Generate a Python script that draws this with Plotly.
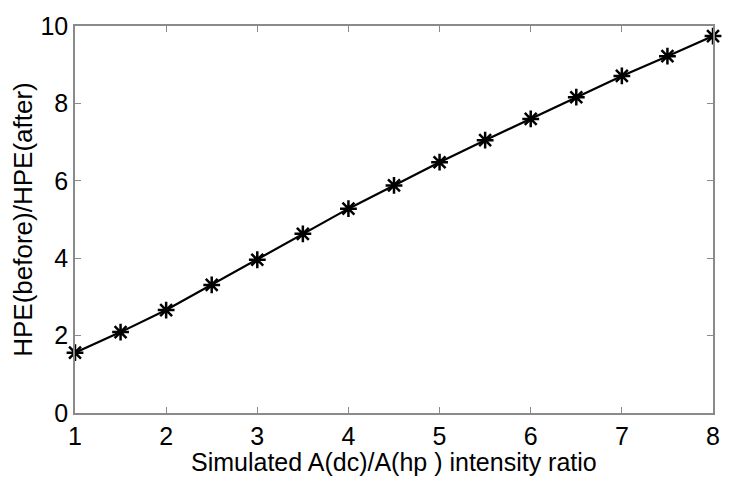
import plotly.graph_objects as go

# intensity ratio A(dc)/A(hp) and HPE improvement
ratio = [1, 1.5, 2, 2.5, 3, 3.5, 4, 4.5, 5, 5.5, 6, 6.5, 7, 7.5, 8]
hpe_ratio = [1.56, 2.09, 2.66, 3.31, 3.96, 4.63, 5.28, 5.88, 6.48,
             7.05, 7.60, 8.16, 8.71, 9.22, 9.74]

x_ticks = [1, 2, 3, 4, 5, 6, 7, 8]
y_ticks = [0, 2, 4, 6, 8, 10]
x_title = "Simulated A(dc)/A(hp ) intensity ratio"
y_title = "HPE(before)/HPE(after)"

fig = go.Figure()
fig.add_trace(go.Scatter(
    x=ratio, y=hpe_ratio, mode="lines+markers",
    line=dict(color="black", width=2.2),
    marker=dict(symbol="asterisk-open", size=14, color="black",
                line=dict(color="black", width=2.5)),
    cliponaxis=False, showlegend=False))

axis_style = dict(showline=True, linecolor="#8a8a8a", linewidth=1.5,
                  mirror="ticks", ticks="inside", ticklen=6,
                  tickcolor="#8a8a8a", showgrid=False, zeroline=False,
                  automargin=False,
                  tickfont=dict(size=25, color="black"))

fig.update_xaxes(range=[1, 8], tickvals=x_ticks, **axis_style)
fig.update_yaxes(range=[0, 10], tickvals=y_ticks,
                 title=dict(text=y_title,
                            font=dict(size=26, color="black"), standoff=0),
                 **axis_style)

# x label sits tight under the tick numbers, as in the MATLAB original
fig.add_annotation(text=x_title, xref="paper", yref="paper", x=0.5, y=0,
                   xanchor="center", yanchor="top", yshift=-33,
                   showarrow=False, font=dict(size=25, color="black"))

# page body adds 8px, so margins are shifted to keep the plot box in place
fig.update_layout(width=736, height=491,
                  margin=dict(l=67, r=31, t=18, b=86),
                  paper_bgcolor="white", plot_bgcolor="white",
                  font=dict(family="Liberation Sans, Arial, sans-serif"))

fig.write_html("out.html")
